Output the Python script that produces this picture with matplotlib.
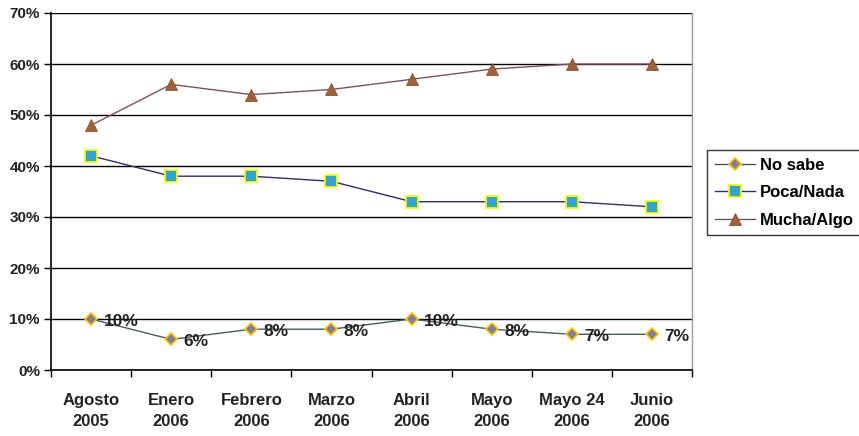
import matplotlib
matplotlib.use("Agg")
import matplotlib.pyplot as plt
from matplotlib.ticker import FixedLocator, FuncFormatter

categories = ["Agosto\n2005", "Enero\n2006", "Febrero\n2006", "Marzo\n2006",
              "Abril\n2006", "Mayo\n2006", "Mayo 24\n2006", "Junio\n2006"]
no_sabe = [10, 6, 8, 8, 10, 8, 7, 7]
poca_nada = [42, 38, 38, 37, 33, 33, 33, 32]
mucha_algo = [48, 56, 54, 55, 57, 59, 60, 60]
y_ticks = [0, 10, 20, 30, 40, 50, 60, 70]

plt.rcParams['font.family'] = ['Liberation Sans', 'DejaVu Sans']
plt.rcParams['font.weight'] = 'bold'

fig = plt.figure(figsize=(8.59, 4.36), dpi=100)
W, H = 859, 436
ax = fig.add_axes([51 / W, (H - 370) / H, (692 - 51) / W, (370 - 13) / H])

x = list(range(len(categories)))

l1, = ax.plot(x, no_sabe, color="#4A5A5A", lw=1.0, marker="D", ms=6,
              mfc="#7F7F95", mec="#FFC000", mew=1.2, label="No sabe", zorder=3)
l2, = ax.plot(x, poca_nada, color="#2E2E66", lw=1.0, marker="s", ms=8,
              mfc="#33A3C9", mec="#FFFF00", mew=1.2, label="Poca/Nada", zorder=3)
l3, = ax.plot(x, mucha_algo, color="#7A5060", lw=1.0, marker="^", ms=9,
              mfc="#A0603A", mec="#8A5030", mew=0.6, label="Mucha/Algo", zorder=3)

for xi, v in zip(x, no_sabe):
    ax.annotate(f"{v}%", (xi, v), xytext=(9, -1.5), textcoords="offset points",
                ha="left", va="center", fontsize=12.5, fontweight="bold",
                color="#222222", zorder=4)

ax.set_xlim(-0.5, len(categories) - 0.5)
ax.set_ylim(0, 70)

ax.yaxis.set_major_locator(FixedLocator(y_ticks))
ax.yaxis.set_major_formatter(FuncFormatter(lambda v, p: f"{int(v)}%"))
ax.grid(axis="y", color="#000000", lw=1.0, zorder=1)

ax.set_xticks(x)
ax.set_xticklabels(categories, fontsize=12, fontweight="bold", color="#222222",
                   linespacing=1.5)
ax.set_xticks([i - 0.5 for i in range(len(categories) + 1)], minor=True)
ax.tick_params(axis="x", which="major", length=0, pad=16.5)
ax.tick_params(axis="x", which="minor", length=5, width=1, direction="out", color="#000000")
ax.tick_params(axis="y", length=5, width=1, direction="out", labelsize=11,
               labelcolor="#222222", pad=3)
for lab in ax.get_yticklabels():
    lab.set_fontweight("bold")

for s in ["left", "bottom"]:
    ax.spines[s].set_color("#000000")
    ax.spines[s].set_linewidth(1.2)
ax.spines["right"].set_color("#999999")
ax.spines["right"].set_linewidth(1.0)
ax.spines["top"].set_visible(False)

leg = fig.legend(handles=[l1, l2, l3], loc="upper left",
                 bbox_to_anchor=(707 / W, 1 - 150 / H), frameon=True,
                 fancybox=False, edgecolor="#000000",
                 prop={"weight": "bold", "size": 12}, handlelength=2.4,
                 handletextpad=0.35, borderpad=0.45, labelspacing=0.75,
                 borderaxespad=0)
leg.get_frame().set_linewidth(1.0)

fig.savefig("out.png", dpi=100)
